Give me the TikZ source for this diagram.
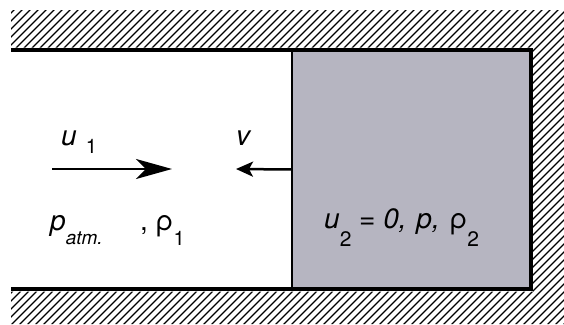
\documentclass[tikz,border=0pt]{standalone}
\usepackage{fontspec}
\setmainfont{TeX Gyre Heros}
\usetikzlibrary{positioning,arrows.meta}
\definecolor{PistonGray}{RGB}{182,181,193}
\newcommand{\subtxt}[3][8pt]{\raisebox{-#1}{\fontsize{#2}{22}\selectfont\upshape #3}}
\tikzset{
  wall/.style={draw=black,line width=4.5pt},
  hatch/.style={draw=black,line width=1.35pt},
  piston/.style={fill=PistonGray,draw=none,inner sep=0pt,minimum width=239pt,minimum height=239pt},
  face/.style={draw=black,line width=2pt},
  flow/.style={draw=black,line width=2.5pt,-{Stealth[length=36pt,width=20pt,inset=10pt]}},
  back/.style={draw=black,line width=2.5pt,-{Stealth[length=17pt,width=15pt,inset=4pt]}},
  lbl/.style={font=\fontsize{28}{32}\selectfont,inner sep=0pt,anchor=base west},
}

\begin{document}
\begin{tikzpicture}[x=1pt,y=-1pt]
\useasboundingbox (0,0) rectangle (564,324);
% hatched walls
\begin{scope}
\clip (11,10) rectangle (564,47.5) (533,10) rectangle (564,324) (11,291.5) rectangle (564,324);
\foreach \i in {-330,-322,...,570}
  \draw[hatch] (\i,330) -- (\i+340,-10);
\end{scope}
% piston gas
\node[piston] (piston) at (411.5,169.5) {};
\draw[face] (piston.north west) -- (piston.south west);
% tube
\draw[wall] (11,50) -| (531,289) -- (11,289);
% velocities
\coordinate (u1tail) at (52,169);
\coordinate (u1head) at (172,169);
\coordinate (vhead) at (236,169);
\draw[flow] (u1tail) -- (u1head);
\draw[back] (piston.west) -- (vhead);
\node[lbl] (u1) at (61,145) {\itshape u\hspace{9pt}\subtxt[8pt]{20}{1}};
\node[lbl] (v) at (236,145) {\itshape v};
% states
\node[lbl] (patm) at (50,230) {\itshape p\subtxt[14pt]{19}{\itshape atm.}};
\node[lbl] (rho1) at (140,230) {, ρ\subtxt[15pt]{20}{1}};
\node[lbl] (state2) at (324,228) {\itshape u\subtxt[18pt]{21}{2} = 0,\hspace{2pt} p,\hspace{2pt} \upshape ρ\subtxt[18pt]{21}{2}};
\end{tikzpicture}
\end{document}
